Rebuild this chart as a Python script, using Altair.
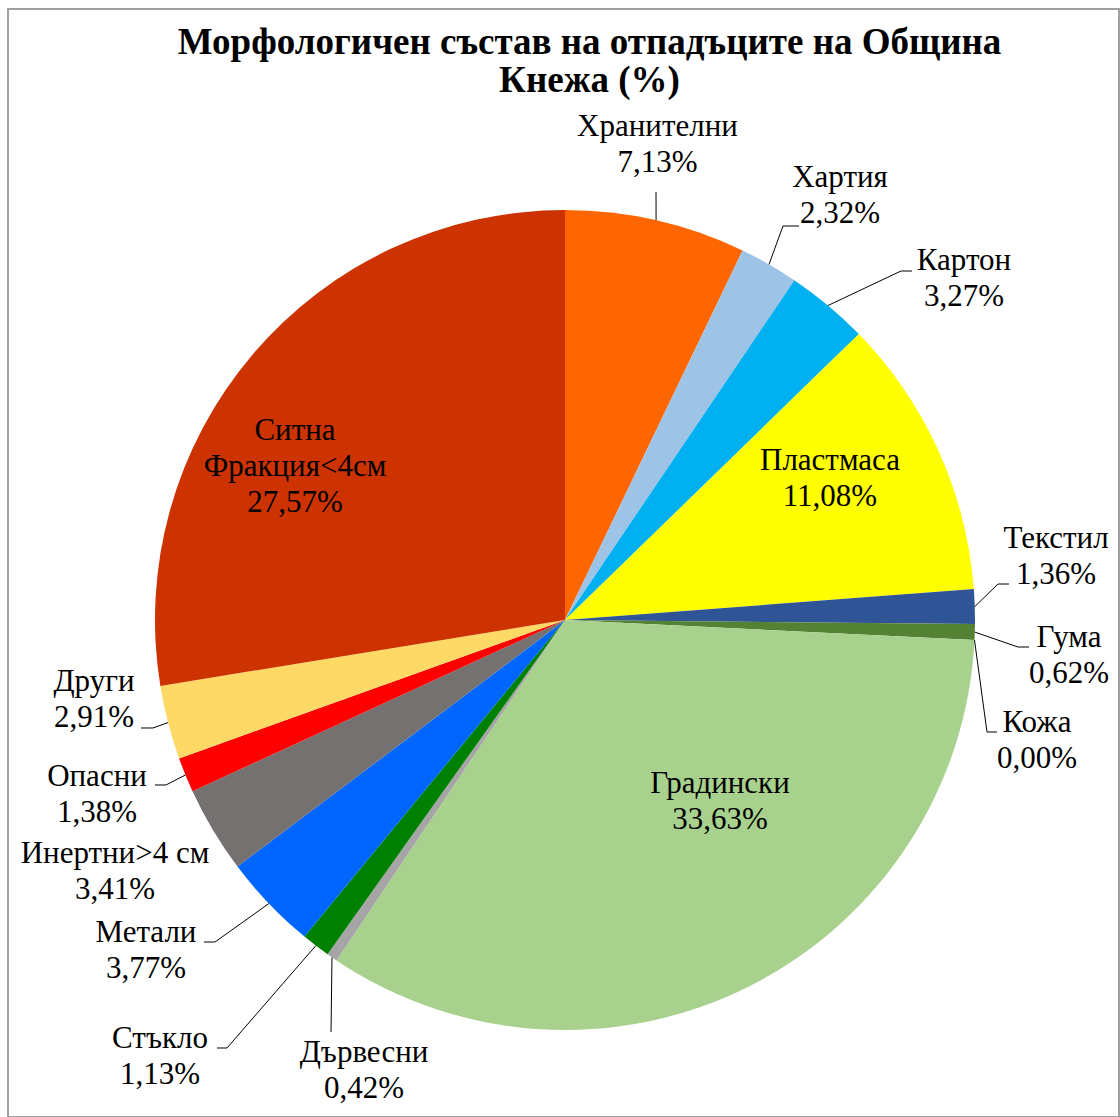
import altair as alt
import pandas as pd
import math

# ---------------- data ----------------
CATEGORIES = ["Хранителни", "Хартия", "Картон", "Пластмаса", "Текстил", "Гума", "Кожа",
              "Градински", "Дървесни", "Стъкло", "Метали", "Инертни>4 см", "Опасни",
              "Други", "Ситна Фракция<4см"]
VALUES = [7.13, 2.32, 3.27, 11.08, 1.36, 0.62, 0.00,
          33.63, 0.42, 1.13, 3.77, 3.41, 1.38, 2.91, 27.57]
COLORS = ["#FF6600", "#9DC3E6", "#00B0F0", "#FFFF00", "#2F5597", "#548235", "#C55A11",
          "#A9D18E", "#A5A5A5", "#008000", "#0066FF", "#767171", "#FF0000",
          "#FFD966", "#CC3300"]
LABEL_NAMES = ["Хранителни", "Хартия", "Картон", "Пластмаса", "Текстил", "Гума", "Кожа",
               "Градински", "Дървесни", "Стъкло", "Метали", "Инертни>4 см", "Опасни",
               "Други", "Ситна\nФракция<4см"]

# ---------------- layout (units of pie radius, origin at pie centre) ----------------
LABEL_POS = {
    "Хранителни": (0.2256, 1.1805), "Хартия": (0.6707, 1.0561), "Картон": (0.9732, 0.8537),
    "Пластмаса": (0.6463, 0.3659), "Текстил": (1.1976, 0.1756), "Гума": (1.2293, -0.0659),
    "Кожа": (1.1512, -0.2732), "Градински": (0.3780, -0.4220), "Дървесни": (-0.4902, -1.0780),
    "Стъкло": (-0.9878, -1.0439), "Метали": (-1.0220, -0.7854), "Инертни>4 см": (-1.0976, -0.5927),
    "Опасни": (-1.1415, -0.4049), "Други": (-1.1488, -0.1732), "Ситна Фракция<4см": (-0.6585, 0.4390),
}
LEADERS = {
    "Хранителни": [(0.2220, 1.0439)],
    "Хартия": [(0.5317, 0.9610), (0.5707, 0.9610)],
    "Картон": [(0.8195, 0.8512), (0.8463, 0.8512)],
    "Текстил": [(1.0561, 0.0878), (1.0829, 0.0878)],
    "Гума": [(1.1049, -0.0659), (1.1317, -0.0659)],
    "Кожа": [(1.0293, -0.2732), (1.0537, -0.2732)],
    "Дървесни": [(-0.5707, -1.0049)],
    "Стъкло": [(-0.8244, -1.0439), (-0.8488, -1.0439)],
    "Метали": [(-0.8537, -0.7854), (-0.8805, -0.7854)],
    "Опасни": [(-0.9732, -0.4024), (-1.0000, -0.4024)],
    "Други": [(-1.0049, -0.2634), (-1.0341, -0.2634)],
}

FONT = "Liberation Serif, Times New Roman, serif"
R = 410
W, H = 1111, 1108
CX, CY = 557, 611  # pie centre inside the view
xs = alt.Scale(domain=[-CX / R, (W - CX) / R], nice=False, zero=False)
ys = alt.Scale(domain=[(CY - H) / R, CY / R], nice=False, zero=False)

def fmt(v):
    return f"{v:.2f}".replace(".", ",") + "%"

slices = pd.DataFrame({"category": CATEGORIES, "value": VALUES, "idx": range(len(VALUES))})

# labels
lab_rows = []
for c, n, v in zip(CATEGORIES, LABEL_NAMES, VALUES):
    px, py = LABEL_POS[c]
    lab_rows.append({"category": c, "label": n + "\n" + fmt(v), "nx": px, "ny": py})
labels = pd.DataFrame(lab_rows)

# leader lines, starting at the slice mid-angle on the rim
total = sum(VALUES)
cum = 0.0
line_rows = []
for c, v in zip(CATEGORIES, VALUES):
    mid = (cum + v / 2) / total * 2 * math.pi
    cum += v
    if c in LEADERS:
        pts = [(math.sin(mid), math.cos(mid))] + LEADERS[c]
        for i, (px, py) in enumerate(pts):
            line_rows.append({"category": c, "seq": i, "nx": px, "ny": py})
lines = pd.DataFrame(line_rows)

pie = alt.Chart(slices).mark_arc(radius=R).encode(
    theta=alt.Theta("value:Q", stack=True),
    color=alt.Color("category:N", scale=alt.Scale(domain=CATEGORIES, range=COLORS), legend=None),
    order=alt.Order("idx:Q"),
    x=alt.X(datum=0, type="quantitative", scale=xs, axis=None),
    y=alt.Y(datum=0, type="quantitative", scale=ys, axis=None),
)

leader = alt.Chart(lines).mark_line(color="black", strokeWidth=1).encode(
    x=alt.X("nx:Q", scale=xs, axis=None),
    y=alt.Y("ny:Q", scale=ys, axis=None),
    detail="category:N",
    order="seq:Q",
)

text = alt.Chart(labels).mark_text(
    font=FONT, fontSize=31, lineHeight=36, lineBreak="\n",
    align="center", baseline="alphabetic", color="black",
).encode(
    x=alt.X("nx:Q", scale=xs, axis=None),
    y=alt.Y("ny:Q", scale=ys, axis=None),
    text="label:N",
)

chart = alt.layer(pie, leader, text).properties(
    width=W, height=H,
    padding={"left": 8, "top": 9, "right": 1, "bottom": 0},
    autosize="none",
    background="white",
    title=alt.TitleParams(
        text=["Морфологичен състав на отпадъците на Община", "Кнежа (%)"],
        font=FONT, fontSize=37, fontWeight="bold", color="black",
        anchor="middle", dx=26, offset=-91, lineHeight=38,
    ),
).configure_view(stroke="#A0A0A0", strokeWidth=2)

chart.save("out.html", embed_options={"renderer": "svg", "actions": False})
